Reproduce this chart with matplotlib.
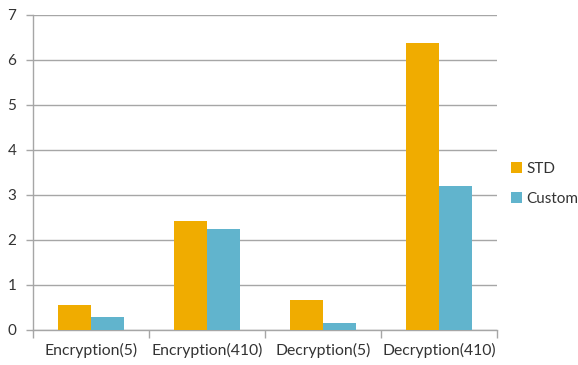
import matplotlib.pyplot as plt
import numpy as np

categories = ['Encryption(5)', 'Encryption(410)', 'Decryption(5)', 'Decryption(410)']
std = [0.56, 2.43, 0.66, 6.37]
custom = [0.29, 2.25, 0.16, 3.19]
series_names = ['STD', 'Custom']

plt.rcParams['font.family'] = ['Lato', 'DejaVu Sans']

fig = plt.figure(figsize=(5.78, 3.65), dpi=100)
ax = fig.add_axes([0.0571, 0.0959, 0.8029, 0.8638])

x = np.arange(len(categories))
w = 0.285
ax.bar(x - w / 2, std, w, color='#F0AC00', label=series_names[0], zorder=3)
ax.bar(x + w / 2, custom, w, color='#61B4CD', label=series_names[1], zorder=3)

ax.set_xlim(-0.5, len(categories) - 0.5)
ax.set_ylim(0, 7)
ax.set_yticks(range(8))
ax.yaxis.grid(True, color='#A6A6A6', linewidth=1, zorder=0)

# category labels between boundary ticks
ax.set_xticks(np.arange(-0.5, len(categories)), minor=False)
ax.set_xticklabels([])
ax.set_xticks(x, minor=True)
ax.set_xticklabels(categories, minor=True, fontsize=11.3, color='#333333')
ax.tick_params(axis='x', which='minor', length=0, pad=9)
ax.tick_params(axis='x', which='major', length=6, color='#A6A6A6', width=1)
ax.tick_params(axis='y', length=5, color='#A6A6A6', width=1, labelsize=11,
               labelcolor='#333333', pad=7)

for s in ['top', 'right']:
    ax.spines[s].set_visible(False)
for s in ['left', 'bottom']:
    ax.spines[s].set_color('#A6A6A6')
    ax.spines[s].set_linewidth(1)

fig.legend(loc='center left', bbox_to_anchor=(0.884, 0.497), frameon=False,
           fontsize=11, handlelength=0.75, handleheight=0.75,
           handletextpad=0.25, labelspacing=1.05, borderpad=0,
           borderaxespad=0, labelcolor='#333333')

fig.savefig('out.png', dpi=100)
